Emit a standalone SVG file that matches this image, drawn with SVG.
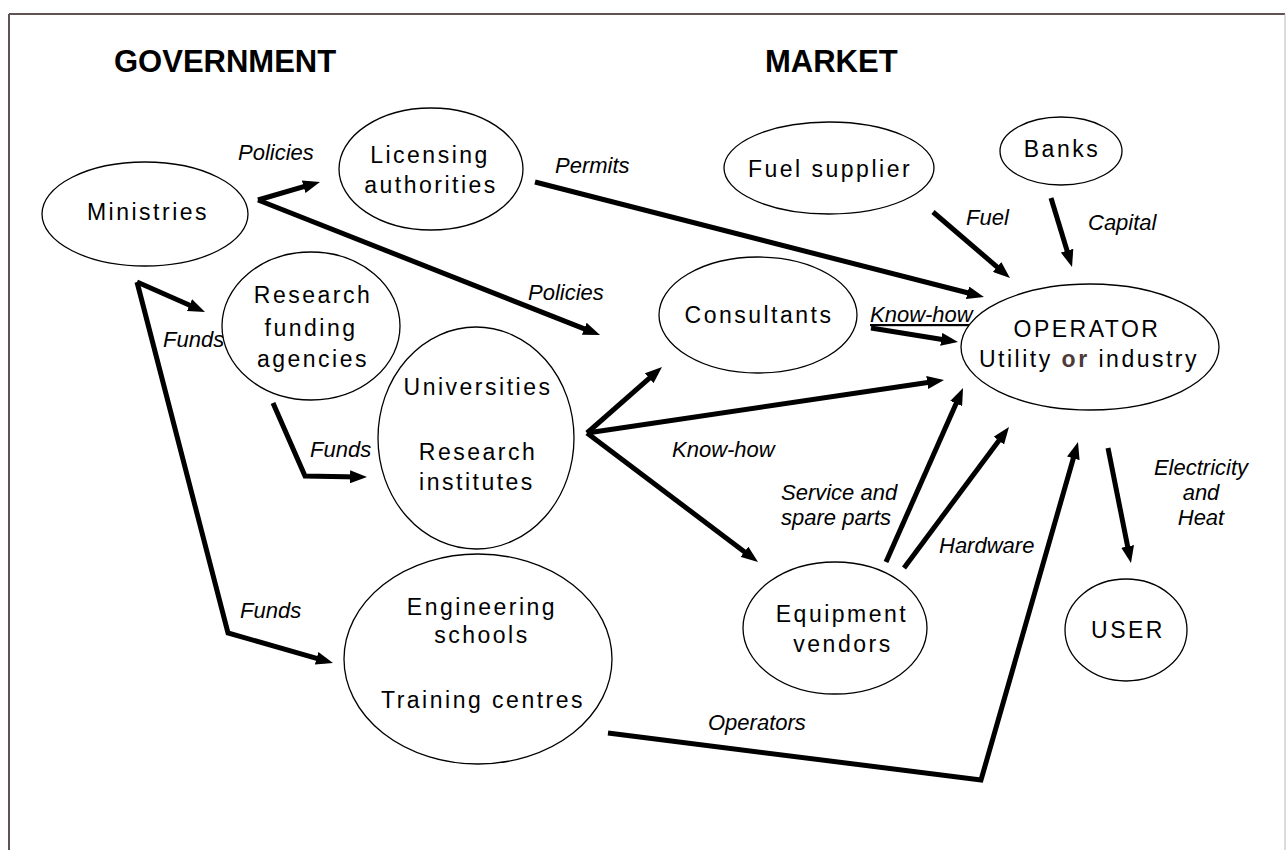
<svg xmlns="http://www.w3.org/2000/svg" width="1286" height="850" viewBox="0 0 1286 850">
  <style>
    .node ellipse { fill: #fff; stroke: #000; stroke-width: 1.3; }
    .node text { font-family: "Liberation Sans", Arial, sans-serif; font-size: 23px; letter-spacing: 2.5px; text-anchor: middle; fill: #000; }
    .head { font-family: "Liberation Sans", Arial, sans-serif; font-size: 31px; font-weight: bold; fill: #000; }
    .conn { fill: none; stroke: #000; stroke-width: 5; stroke-linejoin: miter; stroke-linecap: butt; }
    .arr { marker-end: url(#ah); }
    .lbl { font-family: "Liberation Sans", Arial, sans-serif; font-size: 22px; font-style: italic; fill: #000; }
    .or { font-weight: bold; fill: #4d3b3b; }
  </style>
  <defs>
    <marker id="ah" markerUnits="userSpaceOnUse" markerWidth="17" markerHeight="13" refX="9" refY="6.5" orient="auto">
      <path d="M0,0 L17,6.5 L0,13 z" fill="#000"/>
    </marker>
  </defs>

  <rect width="1286" height="850" fill="#fff"/>
  <!-- outer frame -->
  <g id="frame">
    <line x1="9" y1="14" x2="1285" y2="14" stroke="#5e5252" stroke-width="2"/>
    <line x1="9" y1="14" x2="9" y2="850" stroke="#5e5252" stroke-width="2"/>
    <line x1="1285" y1="14" x2="1285" y2="850" stroke="#b8b8b8" stroke-width="1"/>
  </g>

  <!-- section headings -->
  <text class="head" x="114" y="72">GOVERNMENT</text>
  <text class="head" x="765" y="72">MARKET</text>

  <!-- connectors -->
  <g id="connectors">
    <line class="conn arr" x1="258" y1="200" x2="312.3" y2="184.2"/>
    <line class="conn arr" x1="258" y1="200" x2="592.6" y2="332.1"/>
    <line class="conn arr" x1="535" y1="182" x2="976.2" y2="295"/>
    <line class="conn arr" x1="933" y1="212" x2="1003.9" y2="272.8"/>
    <line class="conn arr" x1="1051" y1="198" x2="1069.7" y2="259.3"/>
    <line class="conn arr" x1="871" y1="328" x2="950.1" y2="340.7"/>
    <line class="conn arr" x1="137" y1="282" x2="197.7" y2="308.8"/>
    <polyline class="conn arr" points="137,282 228,633 325.3,660.8"/>
    <polyline class="conn arr" points="273,403 305,476 359,476.9"/>
    <line class="conn arr" x1="587" y1="433" x2="656" y2="372.3"/>
    <line class="conn arr" x1="587" y1="433" x2="936.1" y2="381.2"/>
    <line class="conn arr" x1="587" y1="433" x2="751.6" y2="557.2"/>
    <line class="conn arr" x1="886" y1="562" x2="959.8" y2="395.3"/>
    <line class="conn arr" x1="904" y1="568" x2="1004.2" y2="433.4"/>
    <polyline class="conn arr" points="608,733 981,780 1075.8,449.7"/>
    <line class="conn arr" x1="1108" y1="448" x2="1129.4" y2="555.2"/>
  </g>

  <!-- connector labels -->
  <g id="labels">
    <text class="lbl" x="238" y="160">Policies</text>
    <text class="lbl" x="555" y="173">Permits</text>
    <text class="lbl" x="966" y="225">Fuel</text>
    <text class="lbl" x="1088" y="230">Capital</text>
    <text class="lbl" x="528" y="300">Policies</text>
    <text class="lbl" x="870" y="322" text-decoration="underline">Know-how</text>
    <text class="lbl" x="163" y="347">Funds</text>
    <text class="lbl" x="310" y="457">Funds</text>
    <text class="lbl" x="672" y="457">Know-how</text>
    <text class="lbl" x="781" y="500">Service and</text>
    <text class="lbl" x="781" y="525">spare parts</text>
    <text class="lbl" x="1201" y="475" text-anchor="middle">Electricity</text>
    <text class="lbl" x="1201" y="500" text-anchor="middle">and</text>
    <text class="lbl" x="1201" y="525" text-anchor="middle">Heat</text>
    <text class="lbl" x="939" y="553">Hardware</text>
    <text class="lbl" x="240" y="618">Funds</text>
    <text class="lbl" x="708" y="730">Operators</text>
  </g>

  <!-- nodes -->
  <g id="ministries" class="node">
    <ellipse cx="145" cy="214" rx="103" ry="52"/>
    <text x="148" y="220">Ministries</text>
  </g>
  <g id="licensing" class="node">
    <ellipse cx="431" cy="169" rx="92" ry="61"/>
    <text x="430" y="163">Licensing</text>
    <text x="431" y="193">authorities</text>
  </g>
  <g id="research-funding" class="node">
    <ellipse cx="311" cy="326" rx="89" ry="74"/>
    <text x="313" y="303">Research</text>
    <text x="311" y="336">funding</text>
    <text x="313" y="367">agencies</text>
  </g>
  <g id="universities" class="node">
    <ellipse cx="476" cy="438" rx="98" ry="111"/>
    <text x="478" y="395">Universities</text>
    <text x="478" y="460">Research</text>
    <text x="477" y="490">institutes</text>
  </g>
  <g id="engineering" class="node">
    <ellipse cx="478" cy="659" rx="134" ry="105"/>
    <text x="482" y="615">Engineering</text>
    <text x="482" y="643">schools</text>
    <text x="483" y="708">Training centres</text>
  </g>
  <g id="consultants" class="node">
    <ellipse cx="758" cy="315" rx="99" ry="58"/>
    <text x="759" y="323">Consultants</text>
  </g>
  <g id="fuel-supplier" class="node">
    <ellipse cx="829" cy="168" rx="105" ry="46"/>
    <text x="830" y="177">Fuel supplier</text>
  </g>
  <g id="banks" class="node">
    <ellipse cx="1061" cy="151" rx="61" ry="34"/>
    <text x="1062" y="157">Banks</text>
  </g>
  <g id="operator" class="node">
    <ellipse cx="1090" cy="347" rx="129" ry="63"/>
    <text x="1087" y="337">OPERATOR</text>
    <text x="1089" y="367">Utility <tspan class="or">or</tspan> industry</text>
  </g>
  <g id="equipment" class="node">
    <ellipse cx="835" cy="628" rx="92" ry="66"/>
    <text x="842" y="622">Equipment</text>
    <text x="843" y="652">vendors</text>
  </g>
  <g id="user" class="node">
    <ellipse cx="1126" cy="630" rx="61" ry="51"/>
    <text x="1128" y="638">USER</text>
  </g>
</svg>
